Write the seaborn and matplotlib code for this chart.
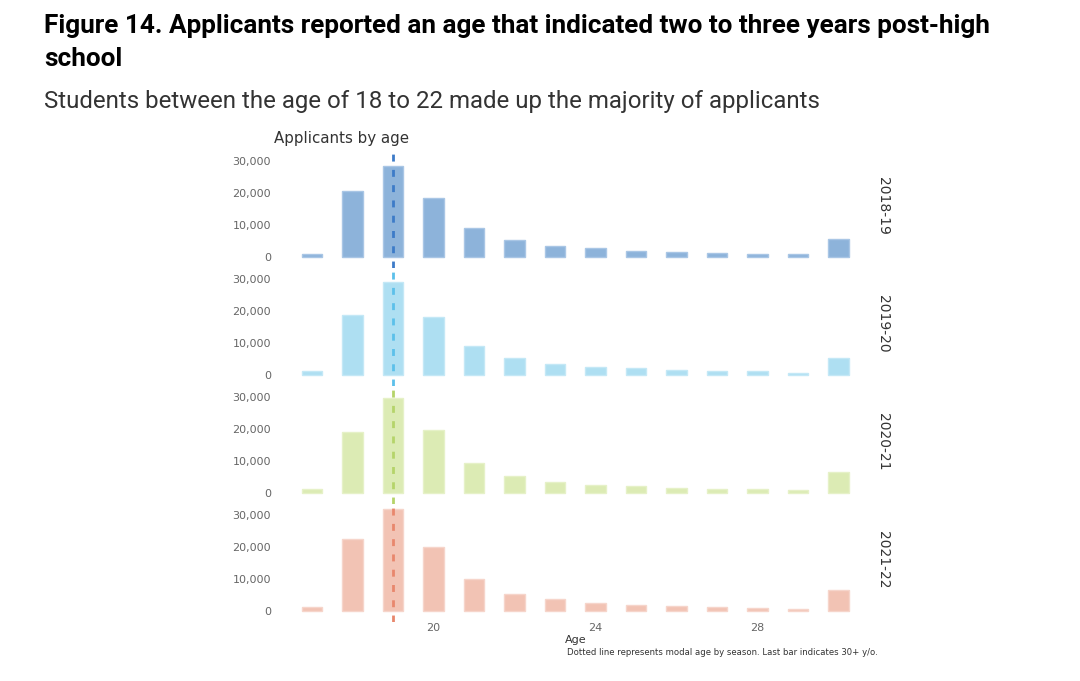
import numpy as np
import pandas as pd
import matplotlib
matplotlib.use("Agg")
import matplotlib.pyplot as plt
import seaborn as sns
from matplotlib.ticker import FuncFormatter

# ---- data ----
ages = [17, 18, 19, 20, 21, 22, 23, 24, 25, 26, 27, 28, 29, 30]
seasons = ["2018-19", "2019-20", "2020-21", "2021-22"]
apps_2018_19 = [1030, 20700, 28600, 18400, 9160, 5410, 3630, 2810, 2060, 1660, 1440, 1130, 940, 5630]
apps_2019_20 = [1380, 18900, 29000, 18100, 9190, 5310, 3660, 2720, 2190, 1780, 1470, 1250, 840, 5440]
apps_2020_21 = [1440, 19060, 29900, 19900, 9380, 5400, 3630, 2700, 2280, 1750, 1440, 1250, 1040, 6660]
apps_2021_22 = [1340, 22600, 31900, 20100, 10200, 5530, 3750, 2600, 2050, 1560, 1340, 1030, 840, 6560]
modal_age = [19, 19, 19, 19]
yticks = [0, 10000, 20000, 30000]
xticks = [20, 24, 28]

bar_colors = ["#8DB3DA", "#AEDFF2", "#DCEBB4", "#F2C3B4"]
edge_colors = ["#A9C6E5", "#C4E8F6", "#E6F1C8", "#F6D5CB"]
line_colors = ["#3D7BC8", "#5CC0EA", "#B5D46A", "#E8876D"]

series = [apps_2018_19, apps_2019_20, apps_2020_21, apps_2021_22]
df = pd.DataFrame({
    "season": np.repeat(seasons, len(ages)),
    "age": ages * len(seasons),
    "applicants": np.concatenate(series),
})

sns.set_theme(style="white")
plt.rcParams["font.family"] = ["DejaVu Sans"]

W, H = 1080, 681
fig = plt.figure(figsize=(W / 100, H / 100), dpi=100)

ax_left = 274.5 / W
ax_w = (876 - 274.5) / W
ax_h = 118 / H
tops = [150, 268, 386, 504]

axes = []
for i, season in enumerate(seasons):
    bottom = 1 - (tops[i] + 118) / H
    ax = fig.add_axes([ax_left, bottom, ax_w, ax_h])
    axes.append(ax)
    sub = df[df["season"] == season]
    sns.barplot(data=sub, x="age", y="applicants", native_scale=True, width=0.5,
                color=bar_colors[i], saturation=1, edgecolor=edge_colors[i],
                linewidth=1, ax=ax, errorbar=None)
    ax.axvline(modal_age[i], color=line_colors[i], lw=2, linestyle=(0, (2.5, 3)),
               zorder=5)
    ax.set_xlim(16.075, 30.925)
    ax.set_ylim(-3344, 33530)
    ax.set_yticks(yticks)
    ax.yaxis.set_major_formatter(FuncFormatter(lambda v, p: f"{int(v):,}"))
    ax.tick_params(axis="y", length=0, pad=2.5, labelsize=8, labelcolor="#666666")
    ax.set_ylabel("")
    if i < 3:
        ax.set_xticks([])
        ax.set_xlabel("")
    else:
        ax.set_xticks(xticks)
        ax.tick_params(axis="x", length=0, pad=0.5, labelsize=8, labelcolor="#666666")
        ax.set_xlabel("Age", fontsize=8, color="#333333", labelpad=1.5)
    ax.grid(False)
    sns.despine(ax=ax, left=True, bottom=True)
    ax.patch.set_alpha(0)
    ax.text(1.0 + 7 / (876 - 274.5), 0.53, season, transform=ax.transAxes,
            rotation=270, ha="center", va="center", fontsize=10, color="#333333")

axes[0].set_title("Applicants by age", loc="left", pad=5, fontsize=10.8, color="#333333")

fig.text(44 / W, 1 - 33 / H,
         "Figure 14. Applicants reported an age that indicated two to three years post-high",
         fontsize=18.85, fontweight="bold", family=["Roboto", "DejaVu Sans"],
         color="#000000", va="baseline", ha="left")
fig.text(44 / W, 1 - 66 / H, "school",
         fontsize=18.85, fontweight="bold", family=["Roboto", "DejaVu Sans"],
         color="#000000", va="baseline", ha="left")
fig.text(44 / W, 1 - 108 / H,
         "Students between the age of 18 to 22 made up the majority of applicants",
         fontsize=17.3, family=["Roboto", "DejaVu Sans"], color="#333333",
         va="baseline", ha="left")
fig.text(567 / W, 1 - 652.5 / H,
         "Dotted line represents modal age by season. Last bar indicates 30+ y/o.",
         fontsize=6.15, color="#333333", va="center", ha="left")

fig.savefig("out.png", dpi=100, facecolor="white")
